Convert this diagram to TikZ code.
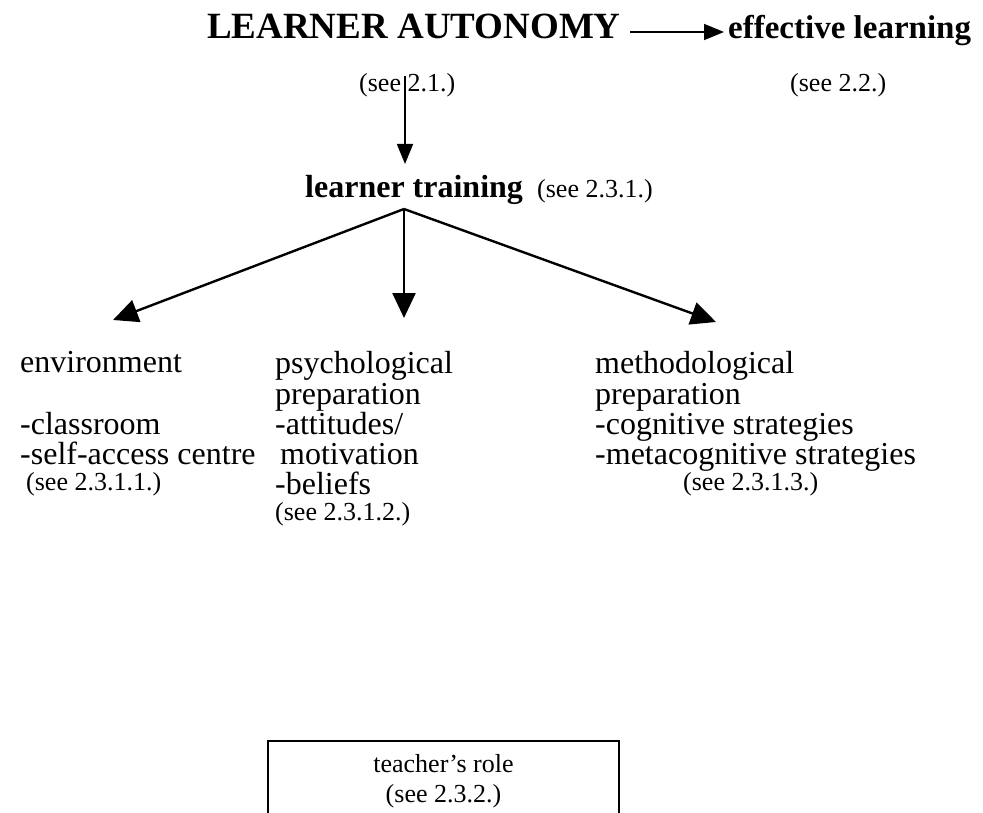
\documentclass[tikz,border=0pt]{standalone}
\usepackage{fontspec}
\setmainfont{Liberation Serif}
\usepackage{tikz}
\usetikzlibrary{arrows.meta, positioning}

\begin{document}
\begin{tikzpicture}[x=1pt,y=-1pt,inner sep=0pt]

    \path[use as bounding box, clip] (0,0) rectangle (983,813);

    \tikzset{
    % text styles
    headtxt/.style={anchor=base west, font=\fontsize{37}{40}\selectfont\bfseries},
    boldtxt/.style={anchor=base west, font=\fontsize{33}{36}\selectfont\bfseries},
    seetxt/.style={anchor=base west, font=\fontsize{26}{30}\selectfont},
    coltxt/.style={anchor=north west, align=left, font=\fontsize{32}{30}\selectfont},
    % connectors
    thinarrow/.style={line width=1.8pt, -{Triangle[length=20pt,width=16pt]}},
    treearrow/.style={line width=2.4pt, -{Triangle[length=25pt,width=23pt]}}
    }

    % top row
    \node at (207,39)[headtxt] (autonomy) {LEARNER AUTONOMY};
    \node at (728,39)[boldtxt] (effective) {effective learning};
    \node at (359,92)[seetxt] (see21) {(see 2.1.)};
    \node at (790,92)[seetxt] (see22) {(see 2.2.)};

    % learner training
    \node at (305,198)[boldtxt, font=\fontsize{32}{36}\selectfont\bfseries] (training) {learner training};
    \node at (537,198)[seetxt] (see231) {(see 2.3.1.)};

    % the three branches
    \node at (20,351)[coltxt] (environment)
        {\strut environment\\[30pt]-classroom\\-self-access centre};
    \node at (275,351)[coltxt] (psychological)
        {\strut psychological\\preparation\\-attitudes/\\\hspace*{5pt}motivation\\-beliefs};
    \node at (595,351)[coltxt] (methodological)
        {\strut methodological\\preparation\\-cognitive strategies\\-metacognitive strategies};

    \node at (26,490)[seetxt] (see2311) {(see 2.3.1.1.)};
    \node at (275,520)[seetxt] (see2312) {(see 2.3.1.2.)};
    \node at (683,490)[seetxt] (see2313) {(see 2.3.1.3.)};

    % teacher's role box, cut by the lower edge
    \node at (443.5,740)[draw, line width=1.6pt, anchor=north,
        minimum width=351pt, minimum height=110pt] (rolebox) {};
    \node at (rolebox.north)[anchor=north, yshift=-14pt, align=center,
        font=\fontsize{26}{30}\selectfont] (role) {teacher's role\\(see 2.3.2.)};

    % arrow ends
    \coordinate (effstart) at (630,32);
    \coordinate (effend) at (724,32);
    \coordinate (downstart) at (405,76);
    \coordinate (downend) at (405,164);
    \coordinate (fork) at (404,209);
    \coordinate (envtip) at (113,320);
    \coordinate (psytip) at (404,318);
    \coordinate (methtip) at (716,322);

    \draw[thinarrow] (effstart) -- (effend);
    \draw[thinarrow] (downstart) -- (downend);
    \draw[treearrow] (fork) -- (envtip);
    \draw[treearrow] (fork) -- (psytip);
    \draw[treearrow] (fork) -- (methtip);

\end{tikzpicture}
\end{document}
